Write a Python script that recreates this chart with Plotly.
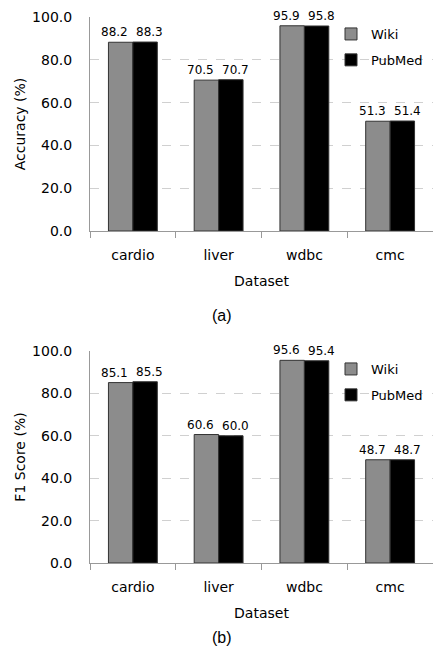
import plotly.graph_objects as go

datasets = ["cardio", "liver", "wdbc", "cmc"]
acc_wiki = [88.2, 70.5, 95.9, 51.3]
acc_pubmed = [88.3, 70.7, 95.8, 51.4]
f1_wiki = [85.1, 60.6, 95.6, 48.7]
f1_pubmed = [85.5, 60.0, 95.4, 48.7]
y_ticks = [0, 20, 40, 60, 80, 100]

W, H = 433, 664
FONT = "DejaVu Sans"
wiki_color = "#8c8c8c"
pubmed_color = "#000000"


def py(pix):
    # pixel from top -> paper y
    return 1 - pix / H


fig = go.Figure()
annotations = []

panels = [
    (acc_wiki, acc_pubmed, "x", "y", "legend"),
    (f1_wiki, f1_pubmed, "x2", "y2", "legend2"),
]
for wiki, pubmed, xa, ya, lg in panels:
    series = [("Wiki", wiki, wiki_color, -18), ("PubMed", pubmed, pubmed_color, 17)]
    for name, vals, col, shift in series:
        fig.add_trace(go.Bar(
            x=datasets, y=vals, name=name, xaxis=xa, yaxis=ya, legend=lg,
            legendgroup=lg + name,
            marker=dict(color=col, line=dict(color="#333333", width=1)),
        ))
        # value labels above each bar
        for cat, v in zip(datasets, vals):
            annotations.append(dict(
                x=cat, y=v, xref=xa, yref=ya, text=f"{v:.1f}", showarrow=False,
                xshift=shift, yanchor="bottom", yshift=1,
                font=dict(size=12, color="black", family=FONT),
            ))

xdom = [90 / W, 1.0]
axis_common = dict(
    showline=True, linecolor="#999999", linewidth=1, automargin=False,
    tickfont=dict(size=14, color="black", family=FONT),
)
xcommon = dict(axis_common, ticks="outside", tickson="boundaries", ticklen=6,
               tickcolor="#999999", ticklabelstandoff=11,
               title=dict(text="Dataset", font=dict(size=14, color="black", family=FONT), standoff=14))
ycommon = dict(axis_common, range=[0, 100], tickvals=y_ticks, tickformat=".1f",
               showgrid=True, gridcolor="#d0d0d0", griddash="dash", gridwidth=1,
               ticks="", zeroline=False, ticklabelstandoff=14)

for txt, ypix in [("(a)", 315), ("(b)", 648)]:
    annotations.append(dict(text=txt, x=222 / W, y=py(ypix), xref="paper", yref="paper",
                            showarrow=False,
                            font=dict(size=16, family="Liberation Sans", color="black")))

legend_style = dict(xanchor="left", yanchor="top", font=dict(size=13, family=FONT),
                    bgcolor="rgba(0,0,0,0)", itemwidth=30, tracegroupgap=6)

fig.update_layout(
    width=W, height=H,
    margin=dict(l=0, r=0, t=0, b=0),
    paper_bgcolor="white", plot_bgcolor="white",
    barmode="group", bargap=0.43, bargroupgap=0,
    font=dict(family=FONT, color="black"),
    xaxis=dict(xcommon, domain=xdom, anchor="y"),
    yaxis=dict(ycommon, domain=[py(231), py(17)], anchor="x",
               title=dict(text="Accuracy (%)", font=dict(size=14, color="black", family=FONT), standoff=3)),
    xaxis2=dict(xcommon, domain=xdom, anchor="y2"),
    yaxis2=dict(ycommon, domain=[py(563), py(351)], anchor="x2",
                title=dict(text="F1 Score (%)", font=dict(size=14, color="black", family=FONT), standoff=3)),
    legend=dict(legend_style, x=331 / W, y=py(19)),
    legend2=dict(legend_style, x=331 / W, y=py(354)),
    annotations=annotations,
)

fig.write_html("out.html", config={"displayModeBar": False},
               post_script="document.body.style.margin='0';")
